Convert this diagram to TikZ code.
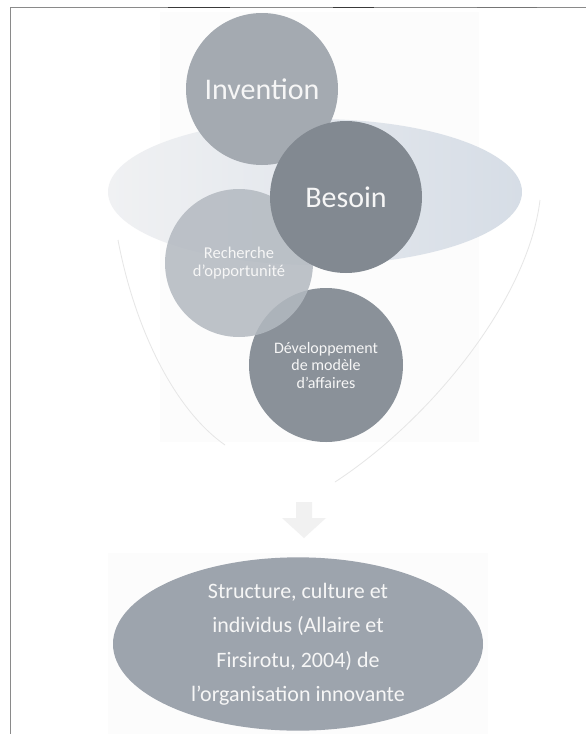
\documentclass[tikz,border=0pt]{standalone}
\usepackage{fontspec}
\setmainfont{Carlito}
\usetikzlibrary{shapes.geometric}

\definecolor{framegray}{HTML}{8A8A8A}
\definecolor{framedark}{HTML}{3A3A3A}
\definecolor{invfill}{HTML}{A4AAB1}
\definecolor{besfill}{HTML}{828991}
\definecolor{recfill}{HTML}{B3B9C0}
\definecolor{devfill}{HTML}{8A9199}
\definecolor{needleft}{HTML}{F0F1F3}
\definecolor{needright}{HTML}{D6DDE6}
\definecolor{orgfill}{HTML}{9DA4AD}
\definecolor{faintline}{HTML}{E6E6E6}
\definecolor{faintarrow}{HTML}{F1F1F1}
\definecolor{paper}{HTML}{FCFCFC}
\definecolor{labelwhite}{HTML}{F6F6F6}

\tikzset{
  disc/.style={circle, inner sep=0pt, align=center, text=labelwhite},
  bigword/.style={font=\fontsize{30}{32}\selectfont},
  smallword/.style={font=\fontsize{16.5}{18.5}\selectfont},
  outline/.style={draw=faintline, line width=0.8pt},
}

\begin{document}
\begin{tikzpicture}[x=1pt, y=-1pt]
  \fill[white] (0,0) rectangle (586,734);
  \useasboundingbox (0,0) rectangle (586,734);

  % pasted figure backgrounds
  \fill[paper] (160,12) rectangle (479,442);
  \fill[paper] (108,553) rectangle (488,734);

  % page frame
  \draw[framegray, line width=1.2pt] (10.5,734) -- (10.5,7.5) -- (586,7.5);
  \draw[framedark, line width=1.6pt] (168,7.5) -- (230,7.5);
  \draw[framedark, line width=1.6pt] (333,7.5) -- (374,7.5);
  \draw[framedark!70, line width=1.6pt] (477,7.5) -- (537,7.5);

  % faint funnel outline
  \coordinate (funR0) at (540,200);
  \coordinate (funR1) at (335,482);
  \coordinate (funL0) at (118,240);
  \coordinate (funL1) at (225,445);
  \draw[outline] (funR0) .. controls (528,300) and (430,420) .. (funR1);
  \draw[outline] (funL0) .. controls (135,330) and (175,410) .. (funL1);

  % wide ellipse behind the circles
  \node[ellipse, minimum width=414pt, minimum height=146pt, inner sep=0pt,
        left color=needleft, right color=needright] (need) at (315,192) {};

  % circles
  \node[disc, fill=devfill, minimum size=154pt] (dev) at (326,365) {};
  \node[disc, fill=invfill, minimum size=152pt, bigword] (inv) at (262,89) {Invention};
  \node[disc, fill=recfill, fill opacity=0.85, text opacity=1, minimum size=148pt] (rec) at (239,263) {};
  \node[disc, fill=besfill, minimum size=152pt, bigword] (bes) at (346,197) {Besoin};

  % labels of the smaller circles
  \node[align=center, text=labelwhite, smallword] (reclabel) at (rec.center) {Recherche\\d'opportunité};
  \node[align=center, text=labelwhite, font=\fontsize{16}{17.5}\selectfont] (devlabel) at (dev.center) {Développement\\de modèle\\d'affaires};

  % faint down arrow
  \fill[faintarrow] (296,502) -- (312,502) -- (312,518) -- (326,518) -- (304,538) -- (282,518) -- (296,518) -- cycle;
  \node[inner sep=0pt] (arrowhint) at (304,520) {};

  % bottom ellipse
  \node[ellipse, fill=orgfill, minimum width=370pt, minimum height=172pt, inner sep=0pt,
        align=center, text=labelwhite, font=\fontsize{22}{34.5}\selectfont] (org) at (298,644)
        {Structure, culture et\\individus (Allaire et\\Firsirotu, 2004) de\\l'organisation innovante};
\end{tikzpicture}
\end{document}
